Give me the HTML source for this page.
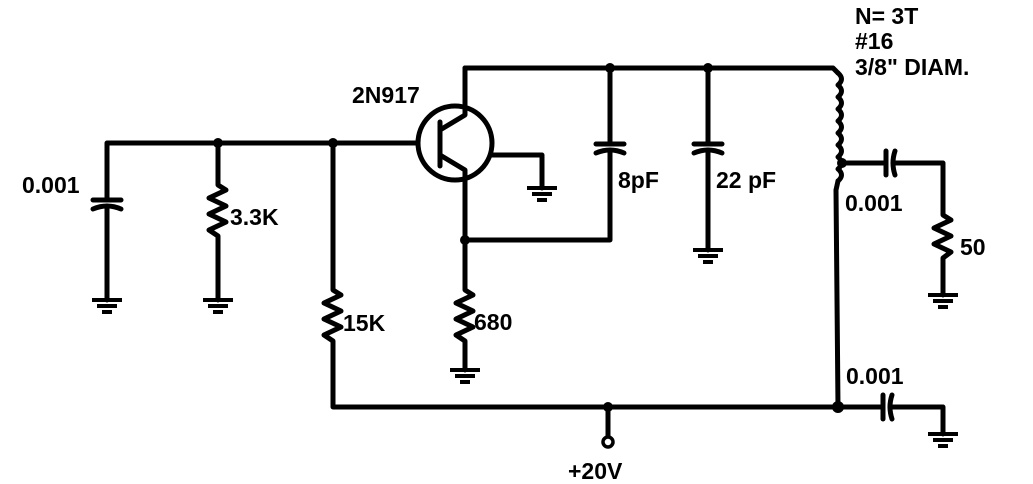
<!DOCTYPE html>
<html><head><style>
html,body{margin:0;padding:0;background:#fff;}
svg{display:block;}
text{font-family:"Liberation Sans",sans-serif;font-weight:bold;fill:#000;font-size:23px;}
</style></head><body>
<svg width="1033" height="484" viewBox="0 0 1033 484" xmlns="http://www.w3.org/2000/svg">
<defs>
<g id="gnd" stroke="#000" stroke-width="4" fill="none">
<line x1="-15" y1="0" x2="15" y2="0"/><line x1="-10" y1="6" x2="10" y2="6"/><line x1="-5" y1="12" x2="5" y2="12"/>
</g>
</defs>
<g stroke="#000" stroke-width="5" fill="none" stroke-linejoin="round" stroke-linecap="round">
<polyline points="107,200 107,143 417,143"/>
<line x1="93" y1="200" x2="121" y2="200"/>
<path d="M93,209 Q107,203 121,209"/>
<line x1="107" y1="206" x2="107" y2="300"/>
<polyline points="218,143 218,185 226,190 209,198 226,206 209,214 226,222 209,230 218,236 218,300"/>
<polyline points="333,143 333,290 341,295 324,303 341,311 324,319 341,327 324,335 333,341 333,407 838,407"/>
<circle cx="455" cy="143" r="37"/>
<line x1="440" y1="122" x2="440" y2="166"/>
<polyline points="465,68 465,115 440,130"/>
<polyline points="440,155 465,170 465,240 610,240 610,152"/>
<polyline points="492,155 542,155 542,188"/>
<polyline points="465,240 465,290 473,295 456,303 473,311 456,319 473,327 456,335 465,341 465,370"/>
<polyline points="465,68 833,68 838,73"/>
<line x1="610" y1="68" x2="610" y2="144"/>
<line x1="596" y1="144" x2="624" y2="144"/>
<path d="M596,153 Q610,147 624,153"/>
<line x1="708" y1="68" x2="708" y2="144"/>
<line x1="694" y1="144" x2="722" y2="144"/>
<path d="M694,153 Q708,147 722,153"/>
<line x1="708" y1="150" x2="708" y2="250"/>
<path d="M838,73 q7,6 0,12 q7,6 0,12 q7,6 0,12 q7,6 0,12 q7,6 0,12 q7,6 0,12 q7,6 0,12 q7,6 0,12 q7,6 0,12"/>
<polyline points="838,181 836,190 838,407"/>
<polyline points="843,163 885,163"/>
<line x1="886" y1="151" x2="886" y2="175"/>
<path d="M895,151 Q891,163 895,175"/>
<polyline points="893,163 943,163 943,215 951,220 934,228 951,236 934,244 951,252 943,258 943,295"/>
<polyline points="838,407 882,407"/>
<line x1="883" y1="395" x2="883" y2="419"/>
<path d="M892,395 Q888,407 892,419"/>
<polyline points="890,407 943,407 943,434"/>
<line x1="608" y1="407" x2="608" y2="436"/>
<circle cx="608" cy="442" r="5" stroke-width="3.5"/>
</g>
<g fill="#000">
<circle cx="218" cy="143" r="5"/><circle cx="333" cy="143" r="5"/>
<circle cx="465" cy="240" r="5"/><circle cx="610" cy="68" r="5"/><circle cx="708" cy="68" r="5"/>
<circle cx="608" cy="407" r="5"/><circle cx="838" cy="407" r="6"/><circle cx="842" cy="163" r="5"/>
</g>
<use href="#gnd" x="107" y="300"/>
<use href="#gnd" x="218" y="300"/>
<use href="#gnd" x="465" y="370"/>
<use href="#gnd" x="542" y="188"/>
<use href="#gnd" x="708" y="250"/>
<use href="#gnd" x="943" y="295"/>
<use href="#gnd" x="943" y="434"/>
<text x="22" y="193">0.001</text>
<text x="230" y="225">3.3K</text>
<text x="343" y="331">15K</text>
<text x="474" y="330">680</text>
<text x="352" y="103">2N917</text>
<text x="618" y="188">8pF</text>
<text x="716" y="188">22 pF</text>
<text x="845" y="211">0.001</text>
<text x="960" y="255">50</text>
<text x="846" y="384">0.001</text>
<text x="568" y="479">+20V</text>
<text x="855" y="24">N= 3T</text>
<text x="855" y="49">#16</text>
<text x="855" y="75">3/8" DIAM.</text>
</svg>
</body></html>
